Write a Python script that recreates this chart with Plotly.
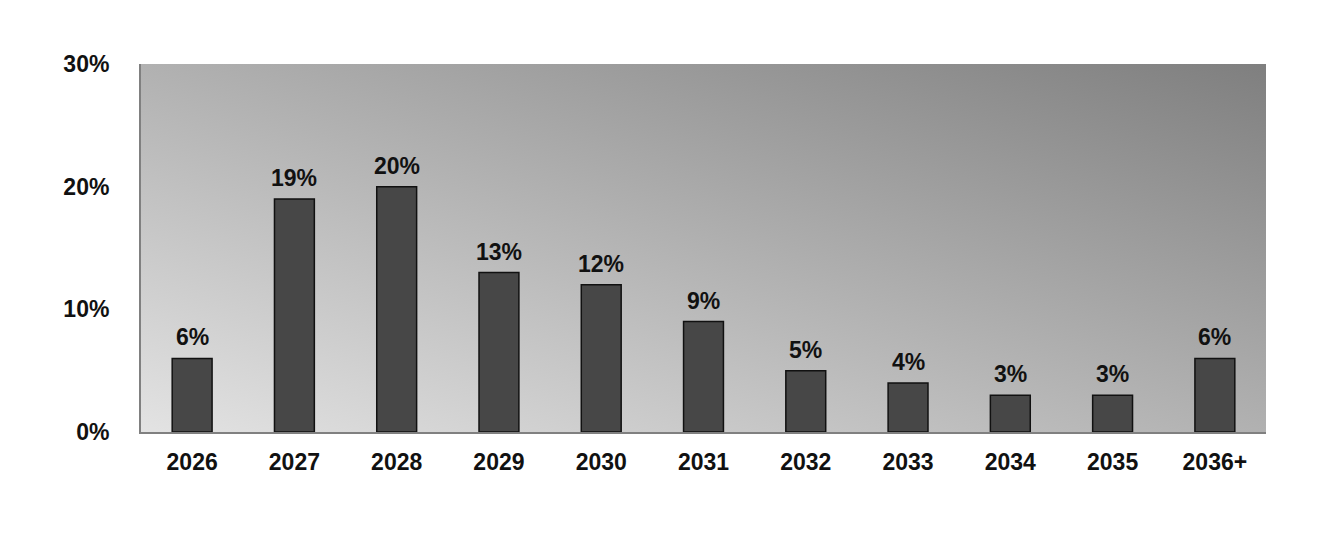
import base64
import plotly.graph_objects as go

years = ["2026", "2027", "2028", "2029", "2030", "2031", "2032", "2033", "2034", "2035", "2036+"]
shares = [6, 19, 20, 13, 12, 9, 5, 4, 3, 3, 6]
y_ticks = [0, 10, 20, 30]
y_tick_text = ["0%", "10%", "20%", "30%"]

# diagonal grey gradient for the plot area (light bottom-left -> dark top-right)
svg = ('<svg xmlns="http://www.w3.org/2000/svg" width="100" height="100" preserveAspectRatio="none">'
       '<defs><linearGradient id="g" x1="0" y1="1" x2="1" y2="0">'
       '<stop offset="0" stop-color="#e3e3e3"/><stop offset="1" stop-color="#7f7f7f"/>'
       '</linearGradient></defs><rect width="100" height="100" fill="url(#g)"/></svg>')
bg_src = "data:image/svg+xml;base64," + base64.b64encode(svg.encode()).decode()

font = "Liberation Sans, Arial, sans-serif"

fig = go.Figure()
fig.add_trace(go.Bar(
    x=years,
    y=shares,
    width=0.39,
    marker=dict(color="#474747", line=dict(color="#111111", width=1.5)),
    hoverinfo="x+y",
))

# value labels sit a bit higher above the bars than plotly's outside text.
# numeric-looking category names would be read as indices, so use the index
for i, v in enumerate(shares):
    fig.add_annotation(
        x=i, y=v, text=f"{v}%", showarrow=False,
        yanchor="bottom", yshift=6,
        font=dict(family=font, size=23, color="#111111", weight="bold"),
    )

# page has an 8px body margin, so margins are shifted to line up with the reference
fig.update_layout(
    width=1330,
    height=538,
    margin=dict(l=133, r=72, t=56, b=114),
    paper_bgcolor="white",
    plot_bgcolor="rgba(0,0,0,0)",
    showlegend=False,
    font=dict(family=font, size=23, color="#111111"),
    images=[dict(source=bg_src, xref="paper", yref="paper", x=0, y=1,
                 sizex=1, sizey=1, sizing="stretch", layer="below",
                 xanchor="left", yanchor="top")],
)
fig.update_xaxes(
    type="category",
    showgrid=False,
    showline=True,
    linecolor="#808080",
    linewidth=2,
    ticks="",
    ticklabelstandoff=8,
    tickfont=dict(family=font, size=23, color="#111111", weight="bold"),
)
fig.update_yaxes(
    range=[0, 30],
    tickvals=y_ticks,
    ticktext=y_tick_text,
    showgrid=False,
    zeroline=False,
    showline=True,
    linecolor="#808080",
    linewidth=2,
    ticks="",
    ticklabelstandoff=25,
    tickfont=dict(family=font, size=23, color="#111111", weight="bold"),
)

fig.write_html("out.html")
